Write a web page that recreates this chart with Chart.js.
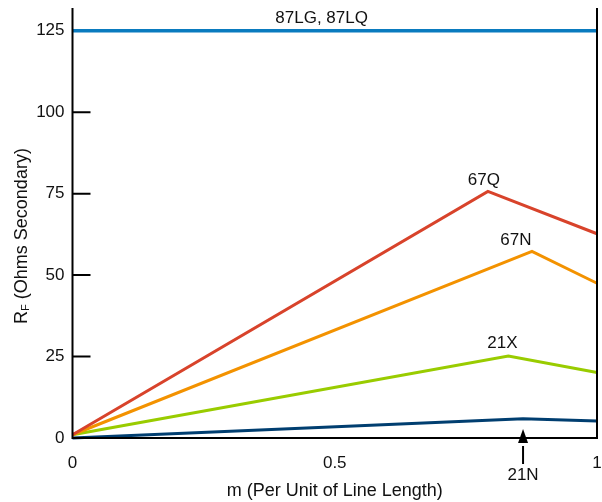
<!DOCTYPE html>
<html>
<head>
<meta charset="utf-8">
<script src="https://cdn.jsdelivr.net/npm/chart.js@4/dist/chart.umd.min.js"></script>
<style>
  html, body { margin: 0; padding: 0; background: #fff; }
  #wrap { width: 602px; height: 502px; }
</style>
</head>
<body>
<div id="wrap"><canvas id="c" width="602" height="502"></canvas></div>
<script>
// ---- data ----
const seriesNames = ["87LG, 87LQ", "67Q", "67N", "21X", "21N"];
const x87 = [0, 1];
const y87 = [125, 125];
const x67Q = [0, 0.792, 1];
const y67Q = [1, 75.7, 62.7];
const x67N = [0, 0.876, 1];
const y67N = [1, 57.3, 47.5];
const x21X = [0, 0.831, 1];
const y21X = [1, 25.2, 20.1];
const x21N = [0, 0.859, 1];
const y21N = [0, 5.9, 5.2];
const yTicks = [0, 25, 50, 75, 100, 125];
const xTicks = [0, 0.5, 1];
const xTickLabels = ["0", "0.5", "1"];

const colors = ["#0a7bbf", "#d8432b", "#f39200", "#99cc00", "#003e70"];
const toPts = (xs, ys) => xs.map((x, i) => ({ x: x, y: ys[i] }));
const allX = [x87, x67Q, x67N, x21X, x21N];
const allY = [y87, y67Q, y67N, y21X, y21N];

const FONT = "'Liberation Sans', Arial, sans-serif";

const overlay = {
  id: 'overlay',
  afterDraw(chart) {
    const ctx = chart.ctx;
    const xs = chart.scales.x, ys = chart.scales.y;
    const left = xs.getPixelForValue(0), right = xs.getPixelForValue(1);
    const top = chart.chartArea.top, bottom = ys.getPixelForValue(0);
    ctx.save();
    ctx.strokeStyle = '#000';
    ctx.lineWidth = 2;
    ctx.beginPath();
    ctx.moveTo(left, top); ctx.lineTo(left, bottom); ctx.lineTo(right, bottom); ctx.lineTo(right, top);
    ctx.stroke();
    ctx.beginPath();
    yTicks.forEach(v => {
      if (v === 0 || v === 125) return;
      const py = ys.getPixelForValue(v);
      ctx.moveTo(left, py); ctx.lineTo(left + 18, py);
    });
    ctx.stroke();
    ctx.restore();

    ctx.save();
    ctx.fillStyle = '#111';
    ctx.font = '17px ' + FONT;
    ctx.textAlign = 'center';
    ctx.textBaseline = 'middle';
    const lbl = (text, px, py, dx, dy) => ctx.fillText(text, px + dx, py + dy);
    lbl(seriesNames[0], xs.getPixelForValue(0.475), ys.getPixelForValue(y87[0]), 0, -12);
    lbl(seriesNames[1], xs.getPixelForValue(x67Q[1]), ys.getPixelForValue(y67Q[1]), -4, -11);
    lbl(seriesNames[2], xs.getPixelForValue(x67N[1]), ys.getPixelForValue(y67N[1]), -16, -11);
    lbl(seriesNames[3], xs.getPixelForValue(x21X[1]), ys.getPixelForValue(y21X[1]), -6, -13);
    const ax = xs.getPixelForValue(x21N[1]);
    ctx.strokeStyle = '#000';
    ctx.fillStyle = '#000';
    ctx.lineWidth = 2;
    ctx.beginPath();
    ctx.moveTo(ax, bottom + 8); ctx.lineTo(ax, bottom + 26);
    ctx.stroke();
    ctx.beginPath();
    ctx.moveTo(ax, bottom - 9);
    ctx.lineTo(ax - 5, bottom + 5);
    ctx.lineTo(ax + 5, bottom + 5);
    ctx.closePath();
    ctx.fill();
    ctx.fillStyle = '#111';
    ctx.fillText(seriesNames[4], ax, bottom + 37);

    ctx.font = '18px ' + FONT;
    ctx.fillText('m (Per Unit of Line Length)', (left + right) / 2, 491);
    ctx.translate(22, 236);
    ctx.rotate(-Math.PI / 2);
    const t1 = 'R', t2 = 'F', t3 = ' (Ohms Secondary)';
    ctx.font = '18px ' + FONT;
    const w1 = ctx.measureText(t1).width, w3 = ctx.measureText(t3).width;
    ctx.font = '11px ' + FONT;
    const w2 = ctx.measureText(t2).width;
    const total = w1 + w2 + w3;
    let sx = -total / 2;
    ctx.textAlign = 'left';
    ctx.font = '18px ' + FONT;
    ctx.fillText(t1, sx, 0); sx += w1;
    ctx.font = '11px ' + FONT;
    ctx.fillText(t2, sx, 4); sx += w2;
    ctx.font = '18px ' + FONT;
    ctx.fillText(t3, sx, 0);
    ctx.restore();
  }
};

new Chart(document.getElementById('c'), {
  type: 'line',
  data: {
    datasets: allX.map((xs, i) => ({
      label: seriesNames[i],
      data: toPts(xs, allY[i]),
      borderColor: colors[i],
      borderWidth: i === 0 ? 3.5 : 3,
      pointRadius: 0,
      fill: false,
      tension: 0
    }))
  },
  options: {
    responsive: false,
    animation: false,
    devicePixelRatio: 1,
    clip: false,
    layout: { padding: { top: 8, right: 5, left: 0, bottom: 0 } },
    plugins: { legend: { display: false }, tooltip: { enabled: false } },
    scales: {
      x: {
        type: 'linear', min: 0, max: 1,
        afterFit: s => { s.height = 64; s.paddingLeft = 0; s.paddingRight = 0; },
        afterBuildTicks: s => { s.ticks = xTicks.map(v => ({ value: v })); },
        grid: { display: false, drawTicks: false },
        border: { display: false },
        ticks: {
          padding: 15,
          color: '#111',
          font: { family: FONT, size: 17 },
          callback: (v) => xTickLabels[xTicks.indexOf(v)],
          maxRotation: 0, autoSkip: false
        }
      },
      y: {
        type: 'linear', min: 0, max: 132,
        afterFit: s => { s.width = 72.5; s.paddingTop = 0; s.paddingBottom = 0; },
        afterBuildTicks: s => { s.ticks = yTicks.map(v => ({ value: v })); },
        grid: { display: false, drawTicks: false },
        border: { display: false },
        ticks: {
          padding: 8,
          color: '#111',
          font: { family: FONT, size: 17 }
        }
      }
    }
  },
  plugins: [overlay]
});
</script>
</body>
</html>
